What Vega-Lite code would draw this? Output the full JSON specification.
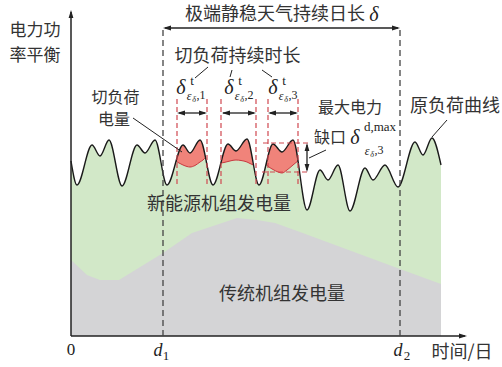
{
"$schema": "https://vega.github.io/schema/vega-lite/v6.json",
"width": 502, "height": 367, "padding": 0, "autosize": {"type": "none"},
"background": "white",
"config": {"view": {"stroke": null}},
"datasets": {
"load": [{"t":0,"p":175},{"t":6,"p":151},{"t":21,"p":191},{"t":29,"p":180},{"t":38,"p":196},{"t":51,"p":150},{"t":66,"p":191},{"t":74,"p":183},{"t":84,"p":196},{"t":96,"p":151},{"t":112,"p":191},{"t":119,"p":183},{"t":129,"p":196},{"t":142,"p":151},{"t":157,"p":192},{"t":165,"p":185},{"t":176,"p":197},{"t":188,"p":151},{"t":202,"p":192},{"t":211,"p":184},{"t":222,"p":196},{"t":236,"p":126},{"t":249,"p":166},{"t":257,"p":156},{"t":267,"p":171},{"t":279,"p":125},{"t":294,"p":168},{"t":302,"p":156},{"t":314,"p":171},{"t":327,"p":149},{"t":344,"p":194},{"t":352,"p":181},{"t":361,"p":198},{"t":370,"p":171}],
"gray": [{"t":0,"p":76},{"t":16,"p":61},{"t":29,"p":56},{"t":48,"p":56},{"t":92,"p":83},{"t":121,"p":103},{"t":166,"p":118},{"t":186,"p":116},{"t":204,"p":113},{"t":229,"p":104},{"t":329,"p":67},{"t":370,"p":52}],
"cut": [
{"seg":1,"t":105,"top":174.7,"bot":174.7},{"seg":1,"t":108,"top":184.75,"bot":173},{"seg":1,"t":112,"top":191,"bot":171},{"seg":1,"t":116,"top":186.15,"bot":169.5},{"seg":1,"t":119,"top":183,"bot":169},{"seg":1,"t":124,"top":189.5,"bot":170.5},{"seg":1,"t":129,"top":196,"bot":174},{"seg":1,"t":132,"top":189.9,"bot":176},{"seg":1,"t":134.5,"top":178.6,"bot":178.6},
{"seg":2,"t":150,"top":173,"bot":173},{"seg":2,"t":153,"top":184,"bot":173.5},{"seg":2,"t":157,"top":192,"bot":174.5},{"seg":2,"t":161,"top":188.5,"bot":175.5},{"seg":2,"t":165,"top":185,"bot":176},{"seg":2,"t":170,"top":190.2,"bot":175.5},{"seg":2,"t":176,"top":197,"bot":174},{"seg":2,"t":179,"top":189.8,"bot":172.5},{"seg":2,"t":182.3,"top":171,"bot":171},
{"seg":3,"t":195,"top":171.5,"bot":171.5},{"seg":3,"t":198,"top":184,"bot":169},{"seg":3,"t":202,"top":192,"bot":166.5},{"seg":3,"t":207,"top":187.3,"bot":164},{"seg":3,"t":211,"top":184,"bot":163},{"seg":3,"t":216,"top":189.2,"bot":166},{"seg":3,"t":222,"top":196,"bot":171},{"seg":3,"t":225,"top":187.7,"bot":173.5},{"seg":3,"t":227,"top":175,"bot":175}
],
"rules": [
{"t":0,"p":0,"t2":0,"p2":324,"kind":"axis"},
{"t":0,"p":0,"t2":394,"p2":0,"kind":"axis"},
{"t":92,"p":0,"t2":92,"p2":308,"kind":"dash"},
{"t":329,"p":0,"t2":329,"p2":308,"kind":"dash"},
{"t":94,"p":308,"t2":327,"p2":308,"kind":"arrow"},
{"t":108,"p":223,"t2":134,"p2":223,"kind":"arrow"},
{"t":152,"p":223,"t2":183,"p2":223,"kind":"arrow"},
{"t":199,"p":223,"t2":225,"p2":223,"kind":"arrow"},
{"t":236,"p":166,"t2":236,"p2":191,"kind":"arrow"},
{"t":106,"p":152,"t2":106,"p2":240,"kind":"reddash"},
{"t":136,"p":152,"t2":136,"p2":240,"kind":"reddash"},
{"t":150,"p":152,"t2":150,"p2":240,"kind":"reddash"},
{"t":185,"p":152,"t2":185,"p2":240,"kind":"reddash"},
{"t":197,"p":152,"t2":197,"p2":240,"kind":"reddash"},
{"t":227,"p":152,"t2":227,"p2":240,"kind":"reddash"},
{"t":192,"p":193,"t2":239,"p2":193,"kind":"reddash"},
{"t":191,"p":164,"t2":239,"p2":164,"kind":"reddash"},
{"t":62,"p":218,"t2":111,"p2":184,"kind":"leader"},
{"t":137,"p":269,"t2":124,"p2":258,"kind":"leader"},
{"t":161,"p":266,"t2":159,"p2":259,"kind":"leader"},
{"t":191,"p":266,"t2":201,"p2":259,"kind":"leader"},
{"t":255,"p":186,"t2":238,"p2":178,"kind":"leader"},
{"t":376,"p":216,"t2":361,"p2":199,"kind":"leader"}
],
"heads": [
{"t":0,"p":322,"dir":"up"},{"t":392,"p":0,"dir":"right"},
{"t":96,"p":308,"dir":"left"},{"t":325,"p":308,"dir":"right"},
{"t":110,"p":223,"dir":"left"},{"t":132,"p":223,"dir":"right"},
{"t":155,"p":223,"dir":"left"},{"t":181,"p":223,"dir":"right"},
{"t":201,"p":223,"dir":"left"},{"t":223,"p":223,"dir":"right"},
{"t":236,"p":189,"dir":"up"},{"t":236,"p":168,"dir":"down"}
],
"ylabel": [{"t":-36,"p":305,"text":["电力功","率平衡"]}],
"texts": [
{"t":204,"p":321,"text":"极端静稳天气持续日长","kind":"cjk"},
{"t":303,"p":321,"text":"δ","kind":"delta"},
{"t":166.5,"p":279,"text":"切负荷持续时长","kind":"cjk"},
{"t":44.5,"p":238,"text":"切负荷","kind":"cjks"},
{"t":43,"p":216,"text":"电量","kind":"cjks"},
{"t":279,"p":228,"text":"最大电力","kind":"cjks"},
{"t":259,"p":198,"text":"缺口","kind":"cjks"},
{"t":284,"p":198,"text":"δ","kind":"delta"},
{"t":309,"p":209,"text":"d,max","kind":"sup"},
{"t":296,"p":185,"text":"ε","kind":"subit"},
{"t":301,"p":181,"text":"δ","kind":"subsub"},
{"t":308,"p":186,"text":",3","kind":"subnum"},
{"t":384,"p":229,"text":"原负荷曲线","kind":"cjk"},
{"t":148,"p":131,"text":"新能源机组发电量","kind":"cjk"},
{"t":211,"p":41,"text":"传统机组发电量","kind":"cjk"},
{"t":391,"p":-17,"text":"时间/日","kind":"cjk"},
{"t":0,"p":-14,"text":"0","kind":"num"},
{"t":87,"p":-15,"text":"d","kind":"dit"},
{"t":95,"p":-20,"text":"1","kind":"dsub"},
{"t":327,"p":-15,"text":"d","kind":"dit"},
{"t":336,"p":-20,"text":"2","kind":"dsub"},
{"t":110,"p":248,"text":"δ","kind":"delta"},{"t":121,"p":255,"text":"t","kind":"sup"},{"t":118,"p":240,"text":"ε","kind":"subit"},{"t":123,"p":236,"text":"δ","kind":"subsub"},{"t":130,"p":241,"text":",1","kind":"subnum"},
{"t":158,"p":248,"text":"δ","kind":"delta"},{"t":169,"p":255,"text":"t","kind":"sup"},{"t":166,"p":240,"text":"ε","kind":"subit"},{"t":171,"p":236,"text":"δ","kind":"subsub"},{"t":178,"p":241,"text":",2","kind":"subnum"},
{"t":202,"p":248,"text":"δ","kind":"delta"},{"t":213,"p":255,"text":"t","kind":"sup"},{"t":210,"p":240,"text":"ε","kind":"subit"},{"t":215,"p":236,"text":"δ","kind":"subsub"},{"t":222,"p":241,"text":",3","kind":"subnum"}
]
},
"encoding": {
"x": {"field":"t","type":"quantitative","scale":{"domain":[-71,431],"nice":false,"zero":false},"axis":null},
"y": {"field":"p","type":"quantitative","scale":{"domain":[-31,336],"nice":false,"zero":false},"axis":null}
},
"layer": [
{"data":{"name":"load"},"mark":{"type":"area","interpolate":"monotone","color":"#d2e8c8"},"encoding":{"y2":{"datum":0}}},
{"data":{"name":"gray"},"mark":{"type":"area","color":"#d4d4d6"},"encoding":{"y2":{"datum":0}}},
{"data":{"name":"cut"},"mark":{"type":"area","interpolate":"monotone","color":"#f0837a","opacity":1},"encoding":{"y":{"field":"top","type":"quantitative","scale":{"domain":[-31,336],"nice":false,"zero":false},"axis":null},"y2":{"field":"bot"},"detail":{"field":"seg"}}},
{"data":{"name":"cut"},"mark":{"type":"line","interpolate":"monotone","color":"#c8383f","strokeWidth":1},"encoding":{"y":{"field":"bot","type":"quantitative","scale":{"domain":[-31,336],"nice":false,"zero":false},"axis":null},"detail":{"field":"seg"}}},
{"data":{"name":"load"},"mark":{"type":"line","interpolate":"monotone","color":"#1a1a1a","strokeWidth":1.4}},
{"data":{"name":"rules"},"transform":[{"filter":"datum.kind==='axis'"}],"mark":{"type":"rule","color":"#222","strokeWidth":1.5},"encoding":{"x2":{"field":"t2"},"y2":{"field":"p2"}}},
{"data":{"name":"rules"},"transform":[{"filter":"datum.kind==='dash'"}],"mark":{"type":"rule","color":"#444","strokeWidth":1.3,"strokeDash":[6,4]},"encoding":{"x2":{"field":"t2"},"y2":{"field":"p2"}}},
{"data":{"name":"rules"},"transform":[{"filter":"datum.kind==='arrow'"}],"mark":{"type":"rule","color":"#222","strokeWidth":1.3},"encoding":{"x2":{"field":"t2"},"y2":{"field":"p2"}}},
{"data":{"name":"rules"},"transform":[{"filter":"datum.kind==='reddash'"}],"mark":{"type":"rule","color":"#d04850","strokeWidth":1.2,"strokeDash":[5,3]},"encoding":{"x2":{"field":"t2"},"y2":{"field":"p2"}}},
{"data":{"name":"rules"},"transform":[{"filter":"datum.kind==='leader'"}],"mark":{"type":"rule","color":"#222","strokeWidth":1},"encoding":{"x2":{"field":"t2"},"y2":{"field":"p2"}}},
{"data":{"name":"heads"},"transform":[{"filter":"datum.dir==='right'"}],"mark":{"type":"point","shape":"M1,0L-1,-0.6L-1,0.6Z","filled":true,"size":64,"color":"#222","opacity":1}},
{"data":{"name":"heads"},"transform":[{"filter":"datum.dir==='left'"}],"mark":{"type":"point","shape":"M-1,0L1,-0.6L1,0.6Z","filled":true,"size":64,"color":"#222","opacity":1}},
{"data":{"name":"heads"},"transform":[{"filter":"datum.dir==='up'"}],"mark":{"type":"point","shape":"M0,-1L-0.6,1L0.6,1Z","filled":true,"size":64,"color":"#222","opacity":1}},
{"data":{"name":"heads"},"transform":[{"filter":"datum.dir==='down'"}],"mark":{"type":"point","shape":"M0,1L-0.6,-1L0.6,-1Z","filled":true,"size":64,"color":"#222","opacity":1}},
{"data":{"name":"ylabel"},"mark":{"type":"text","font":"Noto Sans CJK SC","fontSize":17,"lineHeight":25,"color":"#333","align":"center","baseline":"middle"},"encoding":{"text":{"field":"text"}}},
{"data":{"name":"texts"},"transform":[{"filter":"datum.kind==='cjk'"}],"mark":{"type":"text","font":"Noto Sans CJK SC","fontSize":18,"color":"#333","align":"center","baseline":"middle"},"encoding":{"text":{"field":"text"}}},
{"data":{"name":"texts"},"transform":[{"filter":"datum.kind==='cjks'"}],"mark":{"type":"text","font":"Noto Sans CJK SC","fontSize":16,"color":"#333","align":"center","baseline":"middle"},"encoding":{"text":{"field":"text"}}},
{"data":{"name":"texts"},"transform":[{"filter":"datum.kind==='delta'"}],"mark":{"type":"text","font":"Liberation Serif","fontStyle":"italic","fontSize":20,"color":"#222","align":"center","baseline":"middle"},"encoding":{"text":{"field":"text"}}},
{"data":{"name":"texts"},"transform":[{"filter":"datum.kind==='sup'"}],"mark":{"type":"text","font":"Liberation Serif","fontSize":13,"color":"#222","align":"center","baseline":"middle"},"encoding":{"text":{"field":"text"}}},
{"data":{"name":"texts"},"transform":[{"filter":"datum.kind==='subit'"}],"mark":{"type":"text","font":"Liberation Serif","fontStyle":"italic","fontSize":12,"color":"#222","align":"center","baseline":"middle"},"encoding":{"text":{"field":"text"}}},
{"data":{"name":"texts"},"transform":[{"filter":"datum.kind==='subsub'"}],"mark":{"type":"text","font":"Liberation Serif","fontStyle":"italic","fontSize":8,"color":"#222","align":"center","baseline":"middle"},"encoding":{"text":{"field":"text"}}},
{"data":{"name":"texts"},"transform":[{"filter":"datum.kind==='subnum'"}],"mark":{"type":"text","font":"Liberation Serif","fontSize":12,"color":"#222","align":"center","baseline":"middle"},"encoding":{"text":{"field":"text"}}},
{"data":{"name":"texts"},"transform":[{"filter":"datum.kind==='num'"}],"mark":{"type":"text","font":"Liberation Serif","fontSize":17,"color":"#222","align":"center","baseline":"middle"},"encoding":{"text":{"field":"text"}}},
{"data":{"name":"texts"},"transform":[{"filter":"datum.kind==='dit'"}],"mark":{"type":"text","font":"Liberation Serif","fontStyle":"italic","fontSize":18,"color":"#222","align":"center","baseline":"middle"},"encoding":{"text":{"field":"text"}}},
{"data":{"name":"texts"},"transform":[{"filter":"datum.kind==='dsub'"}],"mark":{"type":"text","font":"Liberation Serif","fontSize":13,"color":"#222","align":"center","baseline":"middle"},"encoding":{"text":{"field":"text"}}}
]
}
